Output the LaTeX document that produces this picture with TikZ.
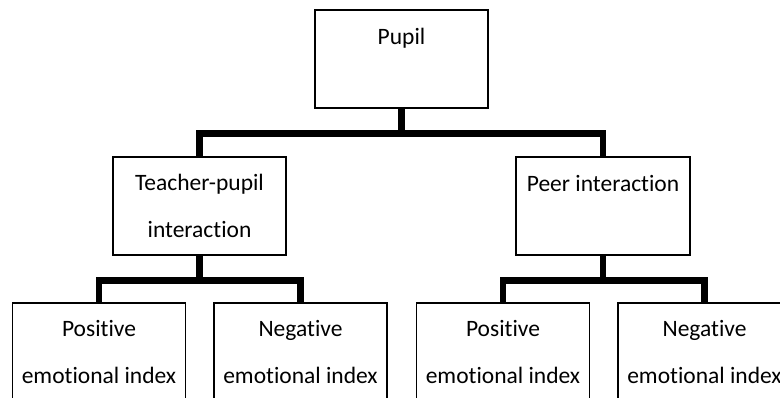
\documentclass[tikz,border=0pt]{standalone}
\usepackage{fontspec}
\setmainfont[Ligatures=NoCommon]{Carlito}
\begin{document}
\begin{tikzpicture}[x=1pt, y=1pt,
  box/.style={draw, line width=1.2pt, fill=white, minimum width=173pt, minimum height=98pt, inner sep=0pt, align=center, font=\fontsize{23.5}{47.5}\selectfont},
  oneline/.style={box, text height=35pt, text depth=63pt},
  conn/.style={line width=6.5pt}]
\useasboundingbox (0,0) rectangle (780,-398);
% top level
\node[oneline] (pupil) at (401.5, -59) {Pupil};
% second level
\node[box] (teacher) at (199.5, -206) {Teacher-pupil\\interaction};
\node[oneline, minimum width=174pt] (peer) at (603, -206) {Peer interaction};
% third level
\node[box] (pos1) at (99, -352) {Positive\\emotional index};
\node[box] (neg1) at (300.5, -352) {Negative\\emotional index};
\node[box] (pos2) at (503, -352) {Positive\\emotional index};
\node[box] (neg2) at (704.5, -352) {Negative\\emotional index};
% connectors
\draw[conn] (pupil.south) -- ++(0,-25) -| (teacher.north);
\draw[conn] (pupil.south) -- ++(0,-25) -| (peer.north);
\draw[conn] (teacher.south) -- ++(0,-25) -| (pos1.north);
\draw[conn] (teacher.south) -- ++(0,-25) -| (neg1.north);
\draw[conn] (peer.south) -- ++(0,-25) -| (pos2.north);
\draw[conn] (peer.south) -- ++(0,-25) -| (neg2.north);
\end{tikzpicture}
\end{document}
